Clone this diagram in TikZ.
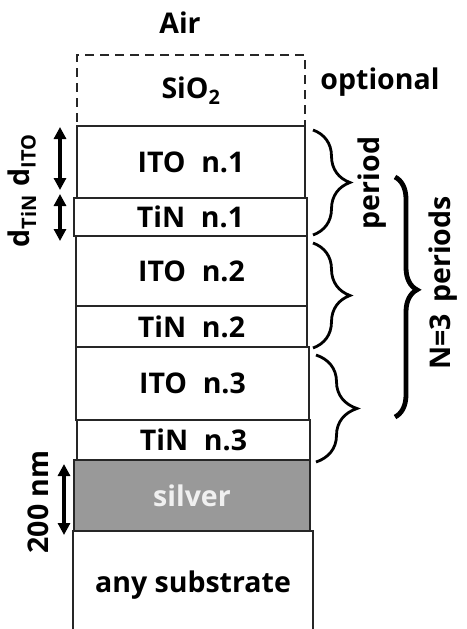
\documentclass[tikz,border=0pt]{standalone}
\usepackage{fontspec}
\setmainfont{Open Sans}
\usetikzlibrary{arrows.meta,decorations.pathreplacing}
\newcommand{\wgap}{\hspace{0.55em}}
\begin{document}
\begin{tikzpicture}[x=1pt,y=-1pt,
  layer/.style={draw=black!85, line width=1.3pt, font=\fontsize{28.5}{30}\selectfont\bfseries, inner sep=0pt},
  lbl/.style={font=\fontsize{28.5}{30}\selectfont\bfseries, inner sep=0pt},
  dimarrow/.style={line width=3.4pt, {Triangle[width=12pt,length=12pt]}-{Triangle[width=12pt,length=12pt]}},
  pbrace/.style={decorate, decoration={brace, amplitude=#1}, line width=2.8pt},
  nbrace/.style={decorate, decoration={brace, amplitude=22pt, aspect=0.47}, line width=4.8pt}]
\clip (0,0) rectangle (466,629);
\fill[white] (0,0) rectangle (466,629);
% layers
\node[layer, dash pattern=on 9pt off 6pt, line width=2.6pt, minimum width=228pt, minimum height=71pt] (sio2) at (191,90.5) {SiO\textsubscript{2}};
\node[layer, minimum width=228pt, minimum height=72pt] (ito1) at (191,162) {ITO\wgap n.1};
\node[layer, minimum width=233pt, minimum height=38pt] (tin1) at (190.5,217) {TiN\wgap n.1};
\node[layer, minimum width=231pt, minimum height=70pt] (ito2) at (191.5,271) {ITO\wgap n.2};
\node[layer, minimum width=231pt, minimum height=41pt] (tin2) at (191.5,326.5) {TiN\wgap n.2};
\node[layer, minimum width=233pt, minimum height=73pt] (ito3) at (192.5,383.5) {ITO\wgap n.3};
\node[layer, minimum width=233pt, minimum height=40pt] (tin3) at (193.5,440) {TiN\wgap n.3};
\node[layer, fill=black!40, text=black!6, minimum width=236pt, minimum height=71pt] (silver) at (192,495.5) {silver};
\node[layer, minimum width=240pt, minimum height=108pt] (sub) at (193,585) {any substrate};
% labels
\node[lbl] (air) at (180,23) {Air};
\node[lbl] (opt) at (380,82) {optional};
\node[lbl, rotate=90] (dito) at (22,160) {d\textsubscript{ITO}};
\node[lbl, rotate=90] (dtin) at (22,221) {d\textsubscript{TiN}};
\node[lbl, rotate=90] (nm) at (38,502) {200 nm};
\node[lbl, rotate=90] (per) at (372,183) {period};
\node[lbl, rotate=90] (nper) at (443,283) {N=3\hspace{0.4em}periods};
% dimension arrows
\coordinate (a1t) at (60,127); \coordinate (a1b) at (60,190);
\coordinate (a2t) at (60,194); \coordinate (a2b) at (60,241);
\coordinate (a3t) at (64,464); \coordinate (a3b) at (64,535);
\draw[dimarrow] (a1t) -- (a1b);
\draw[dimarrow] (a2t) -- (a2b);
\draw[dimarrow] (a3t) -- (a3b);
% braces
\coordinate (b1t) at (313,130); \coordinate (b1b) at (313,235);
\coordinate (b2t) at (313,243); \coordinate (b2b) at (313,348);
\coordinate (b3t) at (316,355); \coordinate (b3b) at (316,462);
\coordinate (bnt) at (395,177); \coordinate (bnb) at (395,417);
\draw[pbrace=37pt] (b1t) -- (b1b);
\draw[pbrace=37pt] (b2t) -- (b2b);
\draw[pbrace=41pt] (b3t) -- (b3b);
\draw[nbrace] (bnt) -- (bnb);
\end{tikzpicture}
\end{document}
